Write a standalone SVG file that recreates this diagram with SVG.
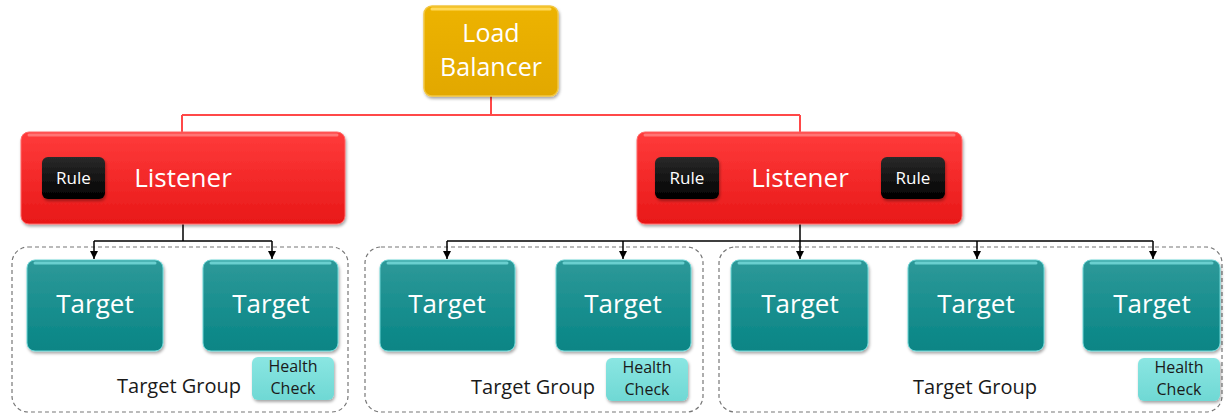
<svg xmlns="http://www.w3.org/2000/svg" width="1225" height="414" viewBox="0 0 1225 414">
<defs>
<linearGradient id="gGold" x1="0" y1="0" x2="0" y2="1"><stop offset="0" stop-color="#EDB300"/><stop offset="1" stop-color="#E2A800"/></linearGradient>
<linearGradient id="gRed" x1="0" y1="0" x2="0" y2="1"><stop offset="0" stop-color="#FF3B3B"/><stop offset="1" stop-color="#E81818"/></linearGradient>
<linearGradient id="gTeal" x1="0" y1="0" x2="0" y2="1"><stop offset="0" stop-color="#2E9999"/><stop offset="1" stop-color="#078585"/></linearGradient>
<linearGradient id="gBlack" x1="0" y1="0" x2="0" y2="1"><stop offset="0" stop-color="#2a2a2a"/><stop offset="1" stop-color="#000"/></linearGradient>
<linearGradient id="gHC" x1="0" y1="0" x2="0" y2="1"><stop offset="0" stop-color="#8AE6E2"/><stop offset="1" stop-color="#6FD8D4"/></linearGradient>
<filter id="sh" x="-10%" y="-10%" width="130%" height="140%"><feDropShadow dx="1" dy="2" stdDeviation="1.5" flood-color="#000" flood-opacity="0.35"/></filter>
<marker id="arr" viewBox="0 0 10 10" refX="10" refY="5" markerWidth="8" markerHeight="8" markerUnits="userSpaceOnUse" orient="auto"><path d="M0,0 L10,5 L0,10 z" fill="#000"/></marker>
<style>
.t{font-family:"Open Sans","Liberation Sans",sans-serif;fill:#fff;text-anchor:middle}
.big{font-size:26px}
.lb{font-size:25px}
.rule{font-size:17px}
.hc{font-size:16px;fill:#1a1a1a}
.tg{font-family:"Open Sans","Liberation Sans",sans-serif;font-size:20px;fill:#1a1a1a;text-anchor:middle}
.grp{fill:none;stroke:#777;stroke-width:1.2;stroke-dasharray:4 3}
.hl{fill:none;stroke-width:3;stroke-linecap:round}
.red{fill:none;stroke:#FF4848;stroke-width:2}
.blk{fill:none;stroke:#000;stroke-width:1.5}
</style>
</defs>

<g id="groups">
<rect class="grp" x="12" y="247" width="336" height="165" rx="16"/>
<rect class="grp" x="365" y="247" width="338" height="165" rx="16"/>
<rect class="grp" x="719" y="247" width="503" height="165" rx="16"/>
</g>

<g id="connectors">
<path class="red" d="M491,96 V115 M182,115 H800 M182,115 V132 M800,115 V132"/>
<path class="blk" d="M183,224 V241 M94,241 H272"/>
<path class="blk" d="M94,241 V259" marker-end="url(#arr)"/>
<path class="blk" d="M272,241 V259" marker-end="url(#arr)"/>
<path class="blk" d="M800,224 V241 M447,241 H1153"/>
<path class="blk" d="M447,241 V259" marker-end="url(#arr)"/>
<path class="blk" d="M623,241 V259" marker-end="url(#arr)"/>
<path class="blk" d="M800,241 V259" marker-end="url(#arr)"/>
<path class="blk" d="M977,241 V259" marker-end="url(#arr)"/>
<path class="blk" d="M1153,241 V259" marker-end="url(#arr)"/>
</g>

<g id="load-balancer">
<rect x="424" y="6" width="134" height="90" rx="8" fill="url(#gGold)" stroke="#F2C640" stroke-width="1.5" filter="url(#sh)"/>
<path class="hl" d="M432,9 H550" stroke="#FFD95A"/>
<text class="t lb" x="491" y="42">Load</text>
<text class="t lb" x="491" y="76">Balancer</text>
</g>

<g id="listener-1">
<rect x="21" y="132" width="324" height="92" rx="8" fill="url(#gRed)" stroke="#FF6A6A" stroke-width="1" filter="url(#sh)"/>
<path class="hl" d="M29,135 H337" stroke="#FF7575"/>
<g id="rule-1">
<rect x="42" y="157" width="63" height="42" rx="6" fill="url(#gBlack)" filter="url(#sh)"/>
<text class="t rule" x="73.5" y="184">Rule</text>
</g>
<text class="t big" x="183" y="187">Listener</text>
</g>

<g id="listener-2">
<rect x="637" y="132" width="325" height="92" rx="8" fill="url(#gRed)" stroke="#FF6A6A" stroke-width="1" filter="url(#sh)"/>
<path class="hl" d="M645,135 H954" stroke="#FF7575"/>
<g id="rule-2">
<rect x="655" y="157" width="64" height="42" rx="6" fill="url(#gBlack)" filter="url(#sh)"/>
<text class="t rule" x="687" y="184">Rule</text>
</g>
<g id="rule-3">
<rect x="881" y="157" width="64" height="42" rx="6" fill="url(#gBlack)" filter="url(#sh)"/>
<text class="t rule" x="913" y="184">Rule</text>
</g>
<text class="t big" x="800" y="187">Listener</text>
</g>

<g id="target-1">
<rect x="27" y="260" width="136" height="91" rx="8" fill="url(#gTeal)" stroke="#6FD6D6" stroke-width="1" filter="url(#sh)"/>
<path class="hl" d="M35,263 H155" stroke="#6ACFCF"/>
<text class="t big" x="95" y="313">Target</text>
</g>
<g id="target-2">
<rect x="203" y="260" width="135" height="91" rx="8" fill="url(#gTeal)" stroke="#6FD6D6" stroke-width="1" filter="url(#sh)"/>
<path class="hl" d="M211,263 H330" stroke="#6ACFCF"/>
<text class="t big" x="271" y="313">Target</text>
</g>
<g id="target-3">
<rect x="380" y="260" width="135" height="91" rx="8" fill="url(#gTeal)" stroke="#6FD6D6" stroke-width="1" filter="url(#sh)"/>
<path class="hl" d="M388,263 H507" stroke="#6ACFCF"/>
<text class="t big" x="447" y="313">Target</text>
</g>
<g id="target-4">
<rect x="556" y="260" width="135" height="91" rx="8" fill="url(#gTeal)" stroke="#6FD6D6" stroke-width="1" filter="url(#sh)"/>
<path class="hl" d="M564,263 H683" stroke="#6ACFCF"/>
<text class="t big" x="623" y="313">Target</text>
</g>
<g id="target-5">
<rect x="731" y="260" width="137" height="91" rx="8" fill="url(#gTeal)" stroke="#6FD6D6" stroke-width="1" filter="url(#sh)"/>
<path class="hl" d="M739,263 H860" stroke="#6ACFCF"/>
<text class="t big" x="800" y="313">Target</text>
</g>
<g id="target-6">
<rect x="908" y="260" width="136" height="91" rx="8" fill="url(#gTeal)" stroke="#6FD6D6" stroke-width="1" filter="url(#sh)"/>
<path class="hl" d="M916,263 H1036" stroke="#6ACFCF"/>
<text class="t big" x="976" y="313">Target</text>
</g>
<g id="target-7">
<rect x="1083" y="260" width="137" height="91" rx="8" fill="url(#gTeal)" stroke="#6FD6D6" stroke-width="1" filter="url(#sh)"/>
<path class="hl" d="M1091,263 H1212" stroke="#6ACFCF"/>
<text class="t big" x="1152" y="313">Target</text>
</g>

<g id="health-check-1">
<rect x="252" y="357" width="82" height="43" rx="6" fill="url(#gHC)" filter="url(#sh)"/>
<text class="t hc" x="293" y="372">Health</text>
<text class="t hc" x="293" y="394">Check</text>
</g>
<g id="health-check-2">
<rect x="606" y="358" width="82" height="43" rx="6" fill="url(#gHC)" filter="url(#sh)"/>
<text class="t hc" x="647" y="373">Health</text>
<text class="t hc" x="647" y="395">Check</text>
</g>
<g id="health-check-3">
<rect x="1138" y="358" width="82" height="43" rx="6" fill="url(#gHC)" filter="url(#sh)"/>
<text class="t hc" x="1179" y="373">Health</text>
<text class="t hc" x="1179" y="395">Check</text>
</g>

<g id="group-labels">
<text class="tg" x="179" y="393">Target Group</text>
<text class="tg" x="533" y="394">Target Group</text>
<text class="tg" x="975" y="394">Target Group</text>
</g>
</svg>
